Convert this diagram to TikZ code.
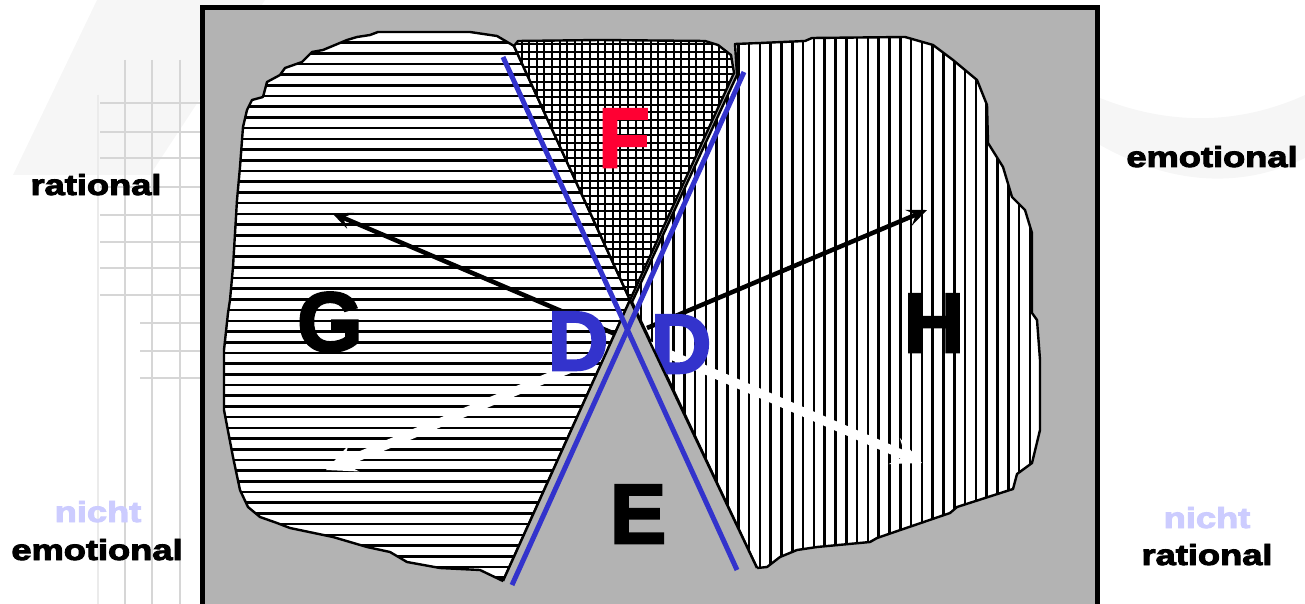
\documentclass[tikz,border=0pt]{standalone}
\usepackage{fontspec}
\usepackage{graphicx}
\setmainfont{Liberation Sans}
\newfontfamily\heavy{Liberation Sans}[BoldFeatures={FakeBold=3}]
\usetikzlibrary{arrows.meta}
\definecolor{bggray}{RGB}{179,179,179}
\definecolor{dblue}{RGB}{51,51,204}
\definecolor{fred}{RGB}{255,0,51}
\definecolor{lav}{RGB}{204,204,255}
\definecolor{wmline}{RGB}{214,214,214}
\definecolor{wmfill}{RGB}{246,246,246}
\begin{document}
\begin{tikzpicture}[x=1pt,y=-1pt,
  outline/.style={draw=black,line width=2.4pt,line join=round},
  hatchline/.style={line width=2.6pt,black},
  xhatchline/.style={line width=2pt,black},
  bigletter/.style={font=\heavy\bfseries\fontsize{84}{84}\selectfont,inner sep=0pt,anchor=base},
  sidelabel/.style={font=\heavy\bfseries\fontsize{29}{29}\selectfont,inner sep=0pt,anchor=base},
  blackarrow/.style={black,line width=4.5pt,-{Stealth[length=20pt,width=17pt,inset=8pt]}},
  whitearrow/.style={white,line width=9pt,-{Stealth[length=30pt,width=28pt,inset=12pt]}},
  blueline/.style={dblue,line width=5pt},
  wmgrid/.style={wmline,line width=2pt},
]
\useasboundingbox (0,0) rectangle (1305,604);
% faint watermark
\fill[wmfill] (13,175) -- (97,0) -- (265,0) -- (150,175) -- cycle;
\fill[wmfill] (1100,98) .. controls (1180,130) and (1250,120) .. (1305,95) -- (1305,158) .. controls (1250,185) and (1180,190) .. (1100,145) -- cycle;
\foreach \x in {125,152,180} \draw[wmgrid] (\x,60) -- (\x,604);
\draw[wmgrid,wmline!50] (98,95) -- (98,604);
\foreach \y in {103,132,158,187,215,242,268,295} \draw[wmgrid] (100,\y) -- (200,\y);
\foreach \y in {323,351,378} \draw[wmgrid] (140,\y) -- (200,\y);
% frame
\fill[bggray] (203,7) rectangle (1098,606);
\draw[line width=5.5pt] (202.5,7.5) rectangle (1097.5,612);
% G region
\begin{scope}
\clip (630,300) -- (514,46) -- (497,36) -- (470,32) -- (378,32) -- (370,35) -- (357,37) -- (347,40) -- (323,50) -- (312,52) -- (302,62) -- (285,68) -- (280,75) -- (267,82) -- (263,97) -- (252,100) -- (247,110) -- (243,127) -- (240,167) -- (237,200) -- (233,267) -- (230,300) -- (228,313) -- (224,350) -- (224,410) -- (233,457) -- (240,490) -- (248,507) -- (260,517) -- (277,523) -- (290,528) -- (333,537) -- (367,547) -- (390,552) -- (407,562) -- (440,568) -- (480,570) -- (503,581) -- cycle;
\fill[white] (210,20) rectangle (700,600);
\foreach \k in {0,...,52} \draw[hatchline] (210,{42.6+10.7*\k}) -- (700,{42.6+10.7*\k});
\end{scope}
\draw[outline] (630,300) -- (514,46) -- (497,36) -- (470,32) -- (378,32) -- (370,35) -- (357,37) -- (347,40) -- (323,50) -- (312,52) -- (302,62) -- (285,68) -- (280,75) -- (267,82) -- (263,97) -- (252,100) -- (247,110) -- (243,127) -- (240,167) -- (237,200) -- (233,267) -- (230,300) -- (228,313) -- (224,350) -- (224,410) -- (233,457) -- (240,490) -- (248,507) -- (260,517) -- (277,523) -- (290,528) -- (333,537) -- (367,547) -- (390,552) -- (407,562) -- (440,568) -- (480,570) -- (503,581) -- cycle;
% H region
\begin{scope}
\clip (632,302) -- (737,75) -- (735,44) -- (760,43) -- (805,41) -- (812,38) -- (905,37) -- (933,45) -- (953,60) -- (977,80) -- (987,105) -- (988,143) -- (1003,167) -- (1012,197) -- (1025,210) -- (1032,233) -- (1032,313) -- (1037,320) -- (1040,360) -- (1040,430) -- (1032,463) -- (1017,474) -- (1013,489) -- (957,507) -- (950,513) -- (877,538) -- (870,542) -- (817,547) -- (797,550) -- (780,557) -- (767,567) -- (757,568) -- cycle;
\fill[white] (600,20) rectangle (1060,600);
\foreach \k in {0,...,38} \draw[hatchline] ({641.1+10.8*\k},20) -- ({641.1+10.8*\k},600);
\end{scope}
\draw[outline] (632,302) -- (737,75) -- (735,44) -- (760,43) -- (805,41) -- (812,38) -- (905,37) -- (933,45) -- (953,60) -- (977,80) -- (987,105) -- (988,143) -- (1003,167) -- (1012,197) -- (1025,210) -- (1032,233) -- (1032,313) -- (1037,320) -- (1040,360) -- (1040,430) -- (1032,463) -- (1017,474) -- (1013,489) -- (957,507) -- (950,513) -- (877,538) -- (870,542) -- (817,547) -- (797,550) -- (780,557) -- (767,567) -- (757,568) -- cycle;
% F region
\begin{scope}
\clip (630,300) -- (514,46) -- (518,41) -- (600,40) -- (705,41) -- (718,45) -- (731,55) -- (734,73) -- cycle;
\fill[white] (500,30) rectangle (740,310);
\foreach \k in {0,...,31} \draw[xhatchline] ({514+7.6*\k},30) -- ({514+7.6*\k},310);
\foreach \k in {0,...,36} \draw[xhatchline] (500,{44+7.6*\k}) -- (740,{44+7.6*\k});
\end{scope}
\draw[outline] (630,300) -- (514,46) -- (518,41) -- (600,40) -- (705,41) -- (718,45) -- (731,55) -- (734,73) -- cycle;
% arrows
\coordinate (lbS) at (615,334);
\coordinate (lbE) at (332,213);
\coordinate (rbS) at (647,328);
\coordinate (rbE) at (927,210);
\coordinate (lwS) at (612,351);
\coordinate (lwE) at (326,470);
\coordinate (rwS) at (643,343);
\coordinate (rwE) at (922,463);
\draw[blackarrow] (lbS) -- (lbE);
\draw[blackarrow] (rbS) -- (rbE);
\draw[whitearrow] (lwS) -- (lwE);
\draw[whitearrow] (rwS) -- (rwE);
% D letters
\node[bigletter,text=dblue] (D1) at (578,370) {D};
\node[bigletter,text=dblue] (D2) at (681,373) {D};
% E wedge
\coordinate (apex) at (630,300);
\coordinate (eL) at (503,581);
\coordinate (eR) at (757,568);
\fill[bggray] (apex) -- (eL) -- (503,601) -- (757,601) -- (eR) -- cycle;
\draw[outline] (eL) -- (apex) -- (eR);
% blue lines
\coordinate (b1s) at (503,57);
\coordinate (b1e) at (737,570);
\coordinate (b2s) at (744,72);
\coordinate (b2e) at (512,585);
\draw[blueline] (b1s) -- (b1e);
\draw[blueline] (b2s) -- (b2e);
% letters
\node[bigletter] (G) at (330,351) {G};
\node[bigletter] (H) at (934,352) {H};
\node[bigletter] (E) at (638,543) {E};
\node[bigletter,text=fred] (F) at (624,167) {F};
% side labels
\node[sidelabel] (l1) at (96,195) {\scalebox{1.25}[1]{rational}};
\node[sidelabel] (l2) at (1212,167) {\scalebox{1.25}[1]{emotional}};
\node[sidelabel,text=lav] (l3) at (98,522) {\scalebox{1.25}[1]{nicht}};
\node[sidelabel] (l4) at (97,560) {\scalebox{1.25}[1]{emotional}};
\node[sidelabel,text=lav] (l5) at (1207,528) {\scalebox{1.25}[1]{nicht}};
\node[sidelabel] (l6) at (1207,565) {\scalebox{1.25}[1]{rational}};
\end{tikzpicture}
\end{document}
